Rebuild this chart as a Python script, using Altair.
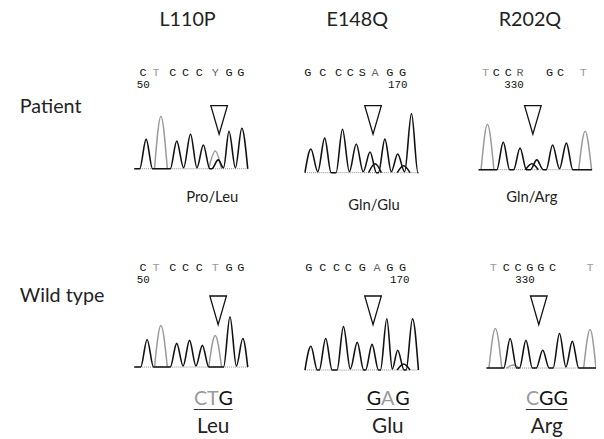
import altair as alt
import pandas as pd

# ---------------- data ----------------
mutations = ["L110P", "E148Q", "R202Q"]
rows = ["Patient", "Wild type"]
seq_patient = ["CTCCCYGG", "GCCCSAGG", "TCCRGCT"]
seq_wild = ["CTCCCTGG", "GCCCGAGG", "TCCGGCT"]
seq_patient_shade = ["01000200", "00000200", "1002001"]   # 0 dark, 1 light, 2 mid letter
seq_wild_shade = ["01000100", "00000200", "1000001"]
positions = ["50", "170", "330"]
patient_aa = ["Pro/Leu", "Gln/Glu", "Gln/Arg"]
wt_codons = ["CTG", "GAG", "CGG"]
wt_codon_grey = ["110", "010", "100"]
wt_aa = ["Leu", "Glu", "Arg"]

# chromatogram peaks: (scan offset, signal height, channel)  k = dark trace, g = light trace, k2 = 2nd dark trace
peaks_patient = [
    [(12, 30, "k"), (43, 28, "k"), (57, 35, "k"), (70, 24, "k"), (85, 9, "k"), (96, 38, "k"), (109, 41, "k"),
     (27, 53, "g"), (82, 18, "g")],
    [(6, 24, "k"), (20, 35, "k"), (38, 44, "k"), (52, 29, "k"), (66, 21, "k"), (81, 34, "k"), (94, 19, "k"), (108, 60, "k"),
     (71, 9, "k2"), (100, 7, "k2")],
    [(25, 28, "k"), (42, 22, "k"), (59, 10, "k"), (75, 25, "k"), (89, 27, "k"),
     (9, 46, "g"), (108, 39, "g"), (54, 6, "k2")],
]
peaks_wild = [
    [(13, 28, "k"), (43, 24, "k"), (56, 27, "k"), (69, 22, "k"), (97, 51, "k"), (110, 29, "k"),
     (27, 42, "g"), (82, 32, "g")],
    [(6, 24, "k"), (21, 32, "k"), (39, 44, "k"), (53, 28, "k"), (68, 26, "k"), (83, 52, "k"), (94, 20, "k"), (109, 52, "k"),
     (100, 6, "k2")],
    [(24, 30, "k"), (40, 28, "k"), (57, 18, "k"), (74, 35, "k"), (87, 27, "k"),
     (9, 40, "g"), (27, 3, "g"), (105, 39, "g")],
]
trace_len = {"Patient": [115, 115, 115], "Wild type": [115, 115, 111]}

# ---------------- layout (pixels) ----------------
panel_left = {"Patient": [136, 309, 485], "Wild type": [136, 309, 493]}
panel_base = {"Patient": [168, 172, 169], "Wild type": [369, 372, 370]}
letter_dx = {"Patient": [[9, 22, 39, 52, 66, 82, 96, 108], [3, 18, 34, 46, 58, 71, 86, 99], [7, 18, 30, 42, 72, 83, 106]],
             "Wild type": [[9, 22, 39, 52, 66, 82, 96, 108], [4, 18, 32, 44, 58, 73, 86, 99], [7, 20, 32, 44, 55, 67, 105]]}
seq_y = {"Patient": 70, "Wild type": 268}
pos_y = {"Patient": 83, "Wild type": 281}
pos_x = {"Patient": [145, 403, 521], "Wild type": [145, 405, 532]}
tri_x = {"Patient": [222, 378, 540], "Wild type": [221, 378, 546]}
tri_y = {"Patient": 118.5, "Wild type": 311.5}
title_x = [190, 362, 537]
title_y = 17
row_x = 20
row_y = {"Patient": 105, "Wild type": 297}
paa_x = [215, 379, 539]
paa_y = [197, 205, 197]
codon_x = [216, 393, 554]
codon_y, underline_y, aa_y = 401, 412, 430
CODON_FS = 20
GLYPH_EM = {"C": 0.63, "T": 0.55, "G": 0.70, "A": 0.68}   # approximate Lato advances
HW = 6.5
DARK, MID, LIGHT = "#111111", "#666666", "#9a9a9a"
SHADE = {"0": DARK, "1": LIGHT, "2": MID}

# ---------------- build tables ----------------
seqs = {"Patient": (seq_patient, seq_patient_shade), "Wild type": (seq_wild, seq_wild_shade)}
letters, nums, tris, bases, trace = [], [], [], [], []
for r in rows:
    s_list, g_list = seqs[r]
    for i in range(3):
        for j, ch in enumerate(s_list[i]):
            letters.append({"x": panel_left[r][i] + letter_dx[r][i][j], "y": seq_y[r], "t": ch,
                            "c": SHADE[g_list[i][j]]})
        nums.append({"x": pos_x[r][i], "y": pos_y[r], "t": positions[i]})
        tris.append({"x": tri_x[r][i], "y": tri_y[r]})
        L, B, n = panel_left[r][i], panel_base[r][i], trace_len[r][i]
        bases.append({"x": L, "x2": L + n, "y": B})
        pk = peaks_patient[i] if r == "Patient" else peaks_wild[i]
        dark = sorted(p for p in pk if p[2] == "k")
        pts = [(0, 0)]
        prev = None
        for x, h, _ in dark:
            if prev is None:
                if x - HW > 0:
                    pts.append((x - HW, 0))
            elif x - prev > 2 * HW + 1:
                pts += [(prev + HW, 0), (x - HW, 0)]
            else:
                pts.append(((prev + x) / 2, 1.0))
            pts.append((x, h))
            prev = x
        if prev + HW < n:
            pts += [(prev + HW, 0), (n, 0)]
        else:
            pts.append((n, 0))
        gid = f"{r}{i}k"
        for k, (x, h) in enumerate(pts):
            trace.append({"g": gid, "o": k, "x": L + x, "y": B - h, "c": DARK, "layer": 1})
        for m, (x, h, ch) in enumerate(p for p in pk if p[2] != "k"):
            gid = f"{r}{i}{ch}{m}"
            col = LIGHT if ch == "g" else DARK
            for k, (xx, hh) in enumerate([(x - HW, 0), (x, h), (x + HW, 0)]):
                trace.append({"g": gid, "o": k, "x": L + min(xx, n), "y": B - hh, "c": col, "layer": 0})

titles = pd.DataFrame({"x": title_x, "y": title_y, "t": mutations})
rowlab = pd.DataFrame({"x": row_x, "y": [row_y[r] for r in rows], "t": rows})
paa = pd.DataFrame({"x": paa_x, "y": paa_y, "t": patient_aa})
codon_rows, under = [], []
for i, cod in enumerate(wt_codons):
    widths = [GLYPH_EM[ch] * CODON_FS + 0.6 for ch in cod]
    total = sum(widths)
    cx = codon_x[i] - total / 2
    for j, ch in enumerate(cod):
        codon_rows.append({"x": cx + 0.3, "y": codon_y, "t": ch,
                           "c": LIGHT if wt_codon_grey[i][j] == "1" else DARK})
        cx += widths[j]
    under.append({"x": codon_x[i] - total / 2, "x2": codon_x[i] + total / 2, "y": underline_y})
aa = pd.DataFrame({"x": codon_x, "y": aa_y, "t": wt_aa})

xs = alt.Scale(domain=[8, 604], nice=False, zero=False)
ys = alt.Scale(domain=[8, 439], nice=False, zero=False, reverse=True)
X = alt.X("x:Q", scale=xs, axis=None)
Y = alt.Y("y:Q", scale=ys, axis=None)
FONT = "Lato"

base_rule = alt.Chart(pd.DataFrame(bases)).mark_rule(color="#8a8a8a", strokeWidth=1, strokeDash=[1, 1]).encode(
    x=X, x2="x2:Q", y=Y)
tr = pd.DataFrame(trace)
light_lines = alt.Chart(tr[tr.layer == 0]).mark_line(interpolate="monotone", strokeWidth=1.5).encode(
    x=X, y=Y, detail="g:N", order="o:Q", color=alt.Color("c:N", scale=None))
dark_lines = alt.Chart(tr[tr.layer == 1]).mark_line(interpolate="monotone", strokeWidth=1.6, color=DARK).encode(
    x=X, y=Y, detail="g:N", order="o:Q")
tri = alt.Chart(pd.DataFrame(tris)).mark_point(
    shape="M-0.58,-1L0.58,-1L0,1Z", size=841, filled=False, stroke="#111", strokeWidth=1.3, opacity=1).encode(x=X, y=Y)
seq_txt = alt.Chart(pd.DataFrame(letters)).mark_text(font="Liberation Mono", fontSize=12, baseline="middle").encode(
    x=X, y=Y, text="t:N", color=alt.Color("c:N", scale=None))
num_txt = alt.Chart(pd.DataFrame(nums)).mark_text(font="Liberation Mono", fontSize=11, baseline="middle",
                                                 color=DARK).encode(x=X, y=Y, text="t:N")
title_txt = alt.Chart(titles).mark_text(font=FONT, fontSize=20, baseline="middle", color="#222").encode(
    x=X, y=Y, text="t:N")
row_txt = alt.Chart(rowlab).mark_text(font=FONT, fontSize=20, baseline="middle", align="left", color="#222").encode(
    x=X, y=Y, text="t:N")
paa_txt = alt.Chart(paa).mark_text(font=FONT, fontSize=15, baseline="middle", color="#222").encode(
    x=X, y=Y, text="t:N")
codon_txt = alt.Chart(pd.DataFrame(codon_rows)).mark_text(font=FONT, fontSize=CODON_FS, baseline="middle",
                                                          align="left").encode(
    x=X, y=Y, text="t:N", color=alt.Color("c:N", scale=None))
under_rule = alt.Chart(pd.DataFrame(under)).mark_rule(color="#333", strokeWidth=1.2).encode(x=X, x2="x2:Q", y=Y)
aa_txt = alt.Chart(aa).mark_text(font=FONT, fontSize=21, baseline="middle", color="#222").encode(
    x=X, y=Y, text="t:N")

chart = alt.layer(base_rule, light_lines, dark_lines, tri, seq_txt, num_txt, title_txt, row_txt, paa_txt,
                  codon_txt, under_rule, aa_txt).properties(
    width=596, height=431, padding=0, autosize=alt.AutoSizeParams(type="none"),
    background="white").configure_view(stroke=None)

chart.save("out.html", embed_options={"renderer": "svg", "actions": False})
